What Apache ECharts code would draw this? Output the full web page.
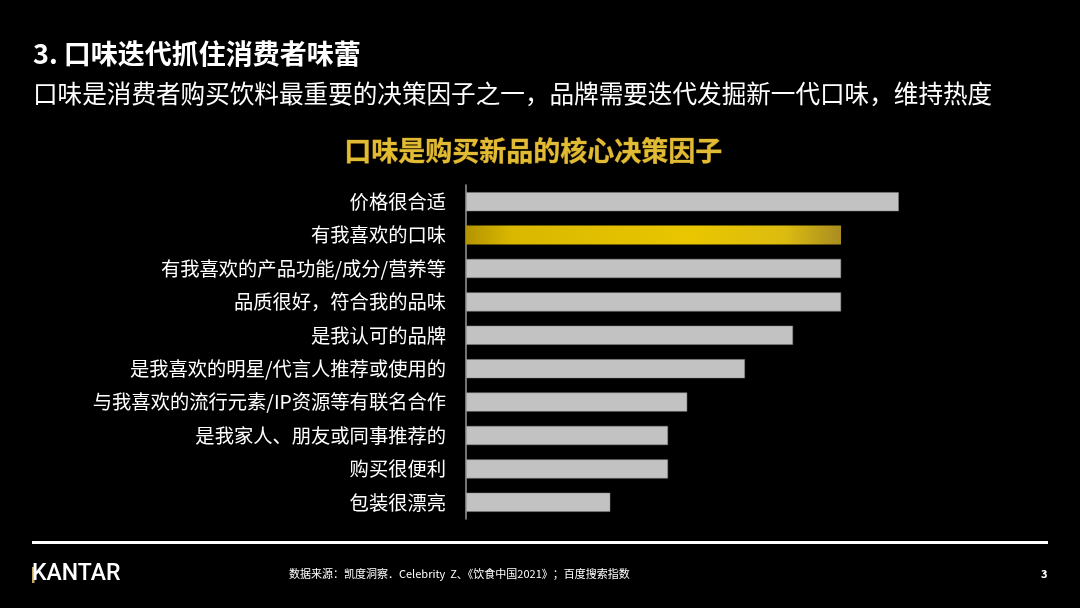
<!DOCTYPE html>
<html>
<head>
<meta charset="utf-8">
<script src="https://cdn.jsdelivr.net/npm/echarts@6/dist/echarts.min.js"></script>
<style>
  html, body { margin: 0; padding: 0; background: #000; }
  #chart { width: 1080px; height: 608px; }
</style>
</head>
<body>
<div id="chart"></div>
<script>
// factors, top to bottom
const categories = [
  '价格很合适',
  '有我喜欢的口味',
  '有我喜欢的产品功能/成分/营养等',
  '品质很好，符合我的品味',
  '是我认可的品牌',
  '是我喜欢的明星/代言人推荐或使用的',
  '与我喜欢的流行元素/IP资源等有联名合作',
  '是我家人、朋友或同事推荐的',
  '购买很便利',
  '包装很漂亮'
]
// relative bar lengths (no labels shown)
const values = [45, 39, 39, 39, 34, 29, 23, 21, 21, 15]
const highlight = '有我喜欢的口味'

const FONT = '"Noto Sans CJK SC", "Noto Sans", sans-serif'

const goldBar = new echarts.graphic.LinearGradient(0, 0, 1, 1, [
  {offset: 0, color: '#b39300'},
  {offset: 0.12, color: '#d9b700'},
  {offset: 0.6, color: '#e9c600'},
  {offset: 0.85, color: '#dcbb10'},
  {offset: 1, color: '#a88c20'}
])

const chart = echarts.init(document.getElementById('chart'))
chart.setOption({
  backgroundColor: '#000',
  animation: false,
  grid: {left: 466, top: 185, width: 577, height: 334, containLabel: false},
  xAxis: {
    type: 'value', min: 0, max: 60, show: false
  },
  yAxis: {
    type: 'category',
    data: categories,
    inverse: true,
    axisLine: {lineStyle: {color: '#9a9a9a', width: 1.5}},
    axisTick: {show: false},
    axisLabel: {color: '#fff', fontSize: 19.3, fontFamily: FONT, margin: 20}
  },
  series: [{
    type: 'bar',
    barCategoryGap: '43%',
    data: values.map((v, i) => ({
      value: v,
      itemStyle: categories[i] === highlight
        ? {color: goldBar}
        : {color: '#c2c2c2', borderColor: '#8a8a8a', borderWidth: 0.5}
    }))
  }],
  graphic: [
    {type: 'text', left: 33, top: 40, style: {
      text: '3. 口味迭代抓住消费者味蕾', fill: '#fff',
      font: 'bold 27px ' + FONT
    }},
    {type: 'text', left: 33, top: 81, style: {
      text: '口味是消费者购买饮料最重要的决策因子之一，品牌需要迭代发掘新一代口味，维持热度',
      fill: '#fff', font: '24.6px ' + FONT
    }},
    {type: 'text', left: 344, top: 137, style: {
      text: '口味是购买新品的核心决策因子', fill: '#e2bb35',
      stroke: '#8a6a10', lineWidth: 0.6,
      font: 'bold 27px ' + FONT
    }},
    {type: 'rect', shape: {x: 32, y: 541, width: 1016, height: 3},
      style: {fill: '#fff'}},
    {type: 'rect', shape: {x: 32, y: 567, width: 2.5, height: 16},
      style: {fill: '#c8a860'}},
    {type: 'text', left: 32, top: 563, style: {
      text: 'KANTAR', fill: '#fff', font: '500 23px Roboto, sans-serif'
    }},
    {type: 'text', left: 289, top: 568, style: {
      text: '数据来源：凯度洞察．Celebrity  Z、《饮食中国2021》；百度搜索指数',
      fill: '#fff', font: '11px ' + FONT
    }},
    {type: 'text', left: 1041, top: 568, style: {
      text: '3', fill: '#fff', font: 'bold 11px ' + FONT
    }}
  ]
})
</script>
</body>
</html>
